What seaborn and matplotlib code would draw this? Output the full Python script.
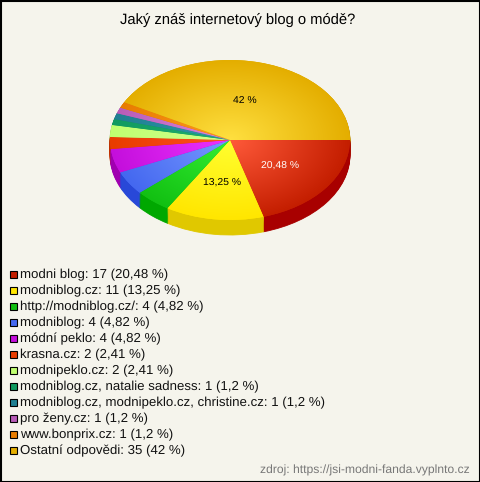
import numpy as np
import matplotlib
matplotlib.use("Agg")
import matplotlib.pyplot as plt
import seaborn as sns
from matplotlib.patches import Rectangle

sns.set_theme(style="white")
plt.rcParams['font.family'] = ['Liberation Sans', 'DejaVu Sans']
plt.rcParams['text.hinting'] = 'no_hinting'

W, H = 480, 482
BG = '#F5F4EC'

title = 'Jaký znáš internetový blog o módě?'
source = 'zdroj: https://jsi-modni-fanda.vyplnto.cz'

answers = ['modni blog', 'modniblog.cz', 'http://modniblog.cz/', 'modniblog', 'módní peklo',
           'krasna.cz', 'modnipeklo.cz', 'modniblog.cz, natalie sadness',
           'modniblog.cz, modnipeklo.cz, christine.cz', 'pro ženy.cz', 'www.bonprix.cz',
           'Ostatní odpovědi']
counts = [17, 11, 4, 4, 4, 2, 2, 1, 1, 1, 1, 35]
shares = ['20,48', '13,25', '4,82', '4,82', '4,82', '2,41', '2,41', '1,2', '1,2', '1,2', '1,2', '42']

# barva okraje, stredu a boku vysece
edge_cols = ['#C41E00', '#FFE600', '#12C012', '#4468F0', '#C40FDC', '#E83C00',
             '#C0FF70', '#109A60', '#1F7F92', '#B85CB8', '#E87C00', '#E4AE00']
center_cols = ['#FF5A3A', '#FFFF30', '#33EE33', '#7799FF', '#EE33FF', '#FF5020',
               '#D0FF90', '#20B070', '#3399AA', '#DD88DD', '#FF9920', '#FFE040']
side_cols = ['#A80000', '#E0C800', '#00A800', '#2848D8', '#A000B0', '#C03000',
             '#A0D060', '#087048', '#106070', '#904090', '#C06000', '#C09000']
pie_text = ['20,48 %', '13,25 %', '', '', '', '', '', '', '', '', '', '42 %']
text_cols = ['white', 'black', 'black', 'black', 'black', 'black', 'black', 'black', 'black', 'black', 'black', 'black']

fig = plt.figure(figsize=(W / 100, H / 100), dpi=100, facecolor=BG)

# ramecek a texty pres celou plochu, souradnice v pixelech
bg = fig.add_axes([0, 0, 1, 1])
bg.set_xlim(0, W)
bg.set_ylim(H, 0)
bg.axis('off')
bg.add_patch(Rectangle((0.5, 0.5), W - 1, H - 1, fill=False, ec='black', lw=1.5))

bg.text(238, 20, title, ha='center', va='center', fontsize=10.6, color='black')
for i, (a, c, s) in enumerate(zip(answers, counts, shares)):
    y = 274.5 + i * 16.05
    bg.add_patch(Rectangle((9.5, y - 4), 7, 7, fc=edge_cols[i], ec='black', lw=0.8))
    bg.text(20, y, f'{a}: {c} ({s} %)', va='center', fontsize=9.5, color='#111111')
bg.text(470, 470, source, ha='right', va='center', fontsize=8.7, color='#777777')

# kolac: elipsa 240x160 px se stredem (230, 140), hloubka 15 px
depth = 15 / 80
ax = fig.add_axes([110 / W, 1 - 240 / H, 240 / W, 180 / H])
ax.patch.set_alpha(0)

for d in np.linspace(depth, 0.01, 16):
    side, _ = ax.pie(counts, colors=side_cols, startangle=0, counterclock=False, center=(0, -d), frame=True)
    for w, c in zip(side, side_cols):
        w.set_edgecolor(c)
        w.set_linewidth(0.6)

wedges, _ = ax.pie(counts, colors=edge_cols, startangle=0, counterclock=False, frame=True,
                   wedgeprops={'linewidth': 0})

# radialni prechod v kazde vyseci
xx, yy = np.meshgrid(np.linspace(-1, 1, 300), np.linspace(-1, 1, 300))
rr = np.sqrt(xx ** 2 + yy ** 2)
for w, c0, c1 in zip(wedges, center_cols, edge_cols):
    cmap = sns.blend_palette([c0, c1], as_cmap=True)
    im = ax.imshow(rr, cmap=cmap, vmin=0, vmax=1, extent=(-1, 1, -1, 1), origin='lower', zorder=3)
    im.set_clip_path(w)

for w, t, col in zip(wedges, pie_text, text_cols):
    if t:
        mid = np.deg2rad((w.theta1 + w.theta2) / 2)
        ax.text(0.52 * np.cos(mid), 0.52 * np.sin(mid) - 0.02, t, ha='center', va='center',
                fontsize=7.5, color=col, zorder=5)

ax.set_aspect('auto')
ax.set_xlim(-1, 1)
ax.set_ylim(-1 - 20 / 80 * 1, 1)
ax.axis('off')

fig.savefig('out.png', dpi=100, facecolor=BG)
